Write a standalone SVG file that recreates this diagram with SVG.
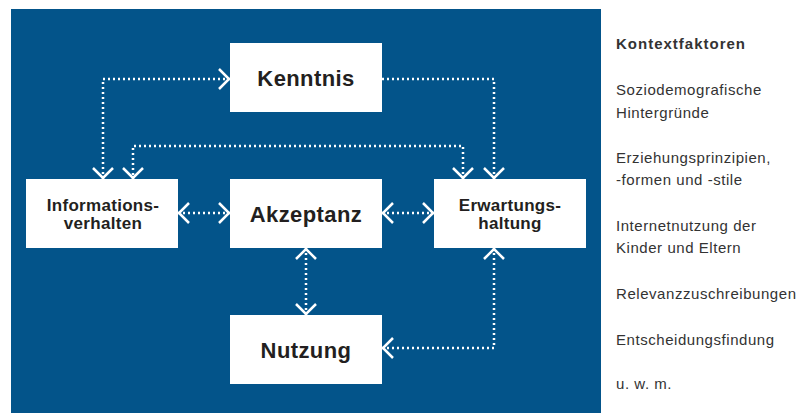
<svg xmlns="http://www.w3.org/2000/svg" width="812" height="413" viewBox="0 0 812 413">
<defs>
<style>
.bg{fill:#03548a}
.box{fill:#ffffff}
.nt{font-family:"Liberation Sans",Arial,sans-serif;font-weight:bold;fill:#231f20;text-anchor:middle}
.big{font-size:22px;letter-spacing:0.4px}
.sm{font-size:17px;letter-spacing:0.3px}
.side{font-family:"Liberation Sans",Arial,sans-serif;font-size:15px;letter-spacing:0.55px;fill:#333333}
.head{font-weight:bold;letter-spacing:1px}
.con{fill:none;stroke:#ffffff;stroke-width:2.5;stroke-dasharray:2 3;marker-end:url(#chev)}
.both{marker-start:url(#chev)}
</style>
<marker id="chev" markerUnits="userSpaceOnUse" markerWidth="30" markerHeight="30" viewBox="-15 -15 30 30" refX="0" refY="0" orient="auto-start-reverse" overflow="visible">
<path d="M-11,-10 L-1,0 L-11,10" fill="none" stroke="#ffffff" stroke-width="2.5"/>
</marker>
</defs>
<rect class="bg" x="11" y="9" width="590" height="404"/>
<g id="connectors">
<path class="con both" d="M230,79 H103 V179"/>
<path class="con" d="M382,79 H494 V179"/>
<path class="con both" d="M463,179 V146 H133 V179"/>
<path class="con both" d="M178,213 H230"/>
<path class="con both" d="M382,213 H434"/>
<path class="con both" d="M306,248 V315"/>
<path class="con both" d="M494,248 V348 H382"/>
</g>
<g id="kenntnis">
<rect class="box" x="230" y="43" width="152" height="69"/>
<text class="nt big" x="306" y="86">Kenntnis</text>
</g>
<g id="informationsverhalten">
<rect class="box" x="26" y="179" width="152" height="69"/>
<text class="nt sm" x="103" y="211">Informations-</text>
<text class="nt sm" x="103" y="229">verhalten</text>
</g>
<g id="akzeptanz">
<rect class="box" x="230" y="179" width="152" height="69"/>
<text class="nt big" x="306" y="222">Akzeptanz</text>
</g>
<g id="erwartungshaltung">
<rect class="box" x="434" y="179" width="152" height="69"/>
<text class="nt sm" x="510" y="211">Erwartungs-</text>
<text class="nt sm" x="510" y="229">haltung</text>
</g>
<g id="nutzung">
<rect class="box" x="230" y="315" width="152" height="69"/>
<text class="nt big" x="306" y="358">Nutzung</text>
</g>
<g id="kontextfaktoren">
<text class="side head" x="616" y="49">Kontextfaktoren</text>
<text class="side" x="616" y="95">Soziodemografische</text>
<text class="side" x="616" y="118">Hintergründe</text>
<text class="side" x="616" y="163">Erziehungsprinzipien,</text>
<text class="side" x="616" y="185">-formen und -stile</text>
<text class="side" x="616" y="231">Internetnutzung der</text>
<text class="side" x="616" y="253">Kinder und Eltern</text>
<text class="side" x="616" y="299">Relevanzzuschreibungen</text>
<text class="side" x="616" y="345">Entscheidungsfindung</text>
<text class="side" x="616" y="389">u. w. m.</text>
</g>
</svg>
